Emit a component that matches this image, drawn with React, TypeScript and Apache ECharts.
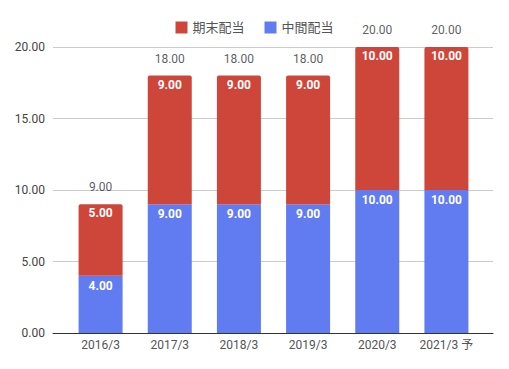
import React, { useEffect, useRef } from "react";
import * as echarts from "echarts";

const categories = ["2016/3", "2017/3", "2018/3", "2019/3", "2020/3", "2021/3 予"];
const interimDividend = [4, 9, 9, 9, 10, 10]; // 中間配当
const yearEndDividend = [5, 9, 9, 9, 10, 10]; // 期末配当
const yTicks = { min: 0, max: 20, interval: 5 };

const BLUE = "#617BF0";
const RED = "#CE463A";
const FONT = "Roboto, 'Noto Sans CJK JP', sans-serif";

export default function App() {
  const ref = useRef<HTMLDivElement>(null);
  useEffect(() => {
    if (!ref.current) return;
    const chart = echarts.init(ref.current, undefined, { renderer: "svg" });
    const totals = categories.map((_, i) => interimDividend[i] + yearEndDividend[i]);
    const fmt = (v: number) => v.toFixed(2);
    chart.setOption({
      animation: false,
      textStyle: { fontFamily: FONT },
      legend: {
        top: 16,
        left: "center",
        icon: "rect",
        itemWidth: 12,
        itemHeight: 12,
        itemGap: 20,
        data: ["期末配当", "中間配当"],
        textStyle: { color: "#555", fontSize: 13, fontFamily: FONT },
      },
      grid: [
        { left: 66, right: 28, top: 47, bottom: 36 },
        { left: 53, right: 16, top: 47, bottom: 36 },
      ],
      xAxis: [
        {
          type: "category",
          gridIndex: 0,
          data: categories,
          axisLine: { show: false },
          axisTick: { show: false },
          axisLabel: { color: "#555", fontSize: 12, margin: 6, interval: 0, fontFamily: FONT },
        },
        {
          type: "value",
          gridIndex: 1,
          min: 0,
          max: 1,
          axisLine: { show: true, onZero: false, lineStyle: { color: "#333", width: 1 } },
          axisTick: { show: false },
          axisLabel: { show: false },
          splitLine: { show: false },
        },
      ],
      yAxis: [
        {
          type: "value",
          gridIndex: 0,
          ...yTicks,
          axisLabel: { show: false },
          axisLine: { show: false },
          axisTick: { show: false },
          splitLine: { show: false },
        },
        {
          type: "value",
          gridIndex: 1,
          ...yTicks,
          axisLabel: { color: "#444", fontSize: 12, margin: 8, formatter: (v: number) => fmt(v), fontFamily: FONT },
          axisLine: { show: false },
          axisTick: { show: false },
          splitLine: { show: true, lineStyle: { color: "#ccc", width: 1 } },
        },
      ],
      series: [
        {
          name: "中間配当",
          type: "bar",
          stack: "div",
          xAxisIndex: 0,
          yAxisIndex: 0,
          barWidth: 44,
          data: interimDividend,
          itemStyle: { color: BLUE },
          label: {
            show: true,
            position: "insideTop",
            distance: 4,
            color: "#fff",
            fontWeight: "bold",
            fontSize: 12,
            fontFamily: FONT,
            formatter: (p: any) => fmt(p.value),
          },
        },
        {
          name: "期末配当",
          type: "bar",
          stack: "div",
          xAxisIndex: 0,
          yAxisIndex: 0,
          barWidth: 44,
          data: yearEndDividend,
          itemStyle: { color: RED, borderRadius: [2, 2, 0, 0] },
          label: {
            show: true,
            position: "insideTop",
            distance: 3,
            color: "#fff",
            fontWeight: "bold",
            fontSize: 12,
            fontFamily: FONT,
            formatter: (p: any) => fmt(p.value),
          },
        },
        {
          name: "合計",
          type: "scatter",
          xAxisIndex: 0,
          yAxisIndex: 0,
          symbolSize: 0,
          data: totals,
          silent: true,
          label: {
            show: true,
            position: "top",
            distance: 11,
            color: "#333",
            fontSize: 12,
            fontFamily: FONT,
            formatter: (p: any) => fmt(p.value),
          },
        },
      ],
    });
    return () => chart.dispose();
  }, []);
  return (
    <div
      ref={ref}
      style={{ position: "fixed", left: 0, top: 0, width: 509, height: 369, background: "#fff" }}
    />
  );
}
